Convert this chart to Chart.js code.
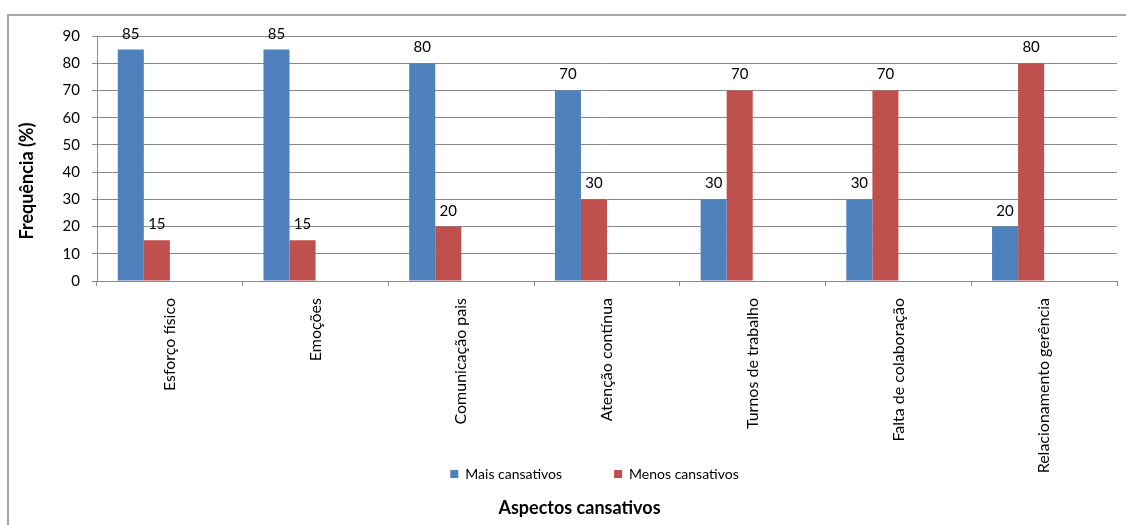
<!DOCTYPE html>
<html>
<head>
<meta charset="utf-8">
<script src="https://cdn.jsdelivr.net/npm/chart.js@4.4.1/dist/chart.umd.min.js"></script>
<style>
  html, body { margin: 0; padding: 0; background: #fff; }
  #wrap { width: 1126px; height: 525px; }
</style>
</head>
<body>
<div id="wrap"><canvas id="c" width="1126" height="525"></canvas></div>
<script>
// ---- data ----
const categories = ['Esforço físico', 'Emoções', 'Comunicação pais', 'Atenção contínua', 'Turnos de trabalho', 'Falta de colaboração', 'Relacionamento gerência'];
const maisCansativos = [85, 85, 80, 70, 30, 30, 20];
const menosCansativos = [15, 15, 20, 30, 70, 70, 80];
const emptySeriesA = [null, null, null, null, null, null, null];
const emptySeriesB = [null, null, null, null, null, null, null];
const seriesNames = ['Mais cansativos', 'Menos cansativos'];
const yTitle = 'Frequência (%)';
const xTitle = 'Aspectos cansativos';

const FONT = 'Lato';
const GRID = '#8a8a8a';
const LEGEND_PAD = 52;

const frame = {
  id: 'frame',
  beforeDraw(chart) {
    const ctx = chart.ctx;
    ctx.save();
    ctx.fillStyle = '#fff';
    ctx.fillRect(0, 0, chart.width, chart.height);
    ctx.strokeStyle = '#a6a6a6';
    ctx.lineWidth = 2;
    ctx.strokeRect(8, 15, chart.width + 20, chart.height + 20);
    ctx.restore();
  }
};

// legend sits inside the band of the rotated category labels, as in the original
const shiftBoxes = {
  id: 'shiftBoxes',
  afterLayout(chart) {
    const lg = chart.legend;
    if (lg) {
      lg.left += 31; lg.right += 31;
      lg.top = 467 - LEGEND_PAD;
      lg.bottom = 467 + 24;
    }
    if (chart.titleBlock) { chart.titleBlock.left += 16; chart.titleBlock.right += 16; }
  }
};

const valueLabels = {
  id: 'valueLabels',
  afterDatasetsDraw(chart) {
    const ctx = chart.ctx;
    ctx.save();
    ctx.font = '15px ' + FONT;
    ctx.fillStyle = '#000';
    ctx.textAlign = 'center';
    ctx.textBaseline = 'alphabetic';
    chart.data.datasets.forEach((ds, i) => {
      const meta = chart.getDatasetMeta(i);
      if (meta.hidden) return;
      meta.data.forEach((el, j) => {
        const v = ds.data[j];
        if (v === null || v === undefined) return;
        ctx.fillText(String(v), el.x, el.y - 11);
      });
    });
    ctx.restore();
  }
};

new Chart(document.getElementById('c'), {
  type: 'bar',
  data: {
    labels: categories,
    datasets: [
      { label: seriesNames[0], data: maisCansativos, backgroundColor: '#4F81BD' },
      { label: seriesNames[1], data: menosCansativos, backgroundColor: '#C0504D' },
      { label: '', data: emptySeriesA, backgroundColor: '#9BBB59' },
      { label: '', data: emptySeriesB, backgroundColor: '#8064A2' }
    ]
  },
  options: {
    responsive: false,
    animation: false,
    events: [],
    datasets: { bar: { categoryPercentage: 0.715, barPercentage: 1.0 } },
    layout: { padding: { left: 10, right: 9, top: 36, bottom: 3.2 } },
    font: { family: FONT },
    scales: {
      x: {
        offset: true,
        grid: { display: true, drawOnChartArea: false, drawTicks: true, tickLength: 5, offset: true, color: GRID },
        border: { display: true, color: GRID, width: 1 },
        ticks: { color: '#000', font: { family: FONT, size: 16 }, maxRotation: 90, minRotation: 90, autoSkip: false, padding: 12 },
        afterFit(scale) { scale.height = 205; }
      },
      y: {
        min: 0, max: 90,
        grid: { color: GRID, tickLength: 5, drawTicks: true },
        border: { display: true, color: GRID, width: 1 },
        ticks: { stepSize: 10, color: '#000', font: { family: FONT, size: 15 }, padding: 12 },
        title: { display: true, text: yTitle + '\u2002\u2002\u2002\u2002\u2002', color: '#000', font: { family: FONT, size: 18, weight: 'bold' }, padding: { top: 6.7, bottom: 0 } },
        afterFit(scale) { scale.width = 87; }
      }
    },
    plugins: {
      legend: {
        position: 'bottom',
        maxHeight: 5,
        labels: {
          font: { family: FONT, size: 14 }, color: '#000',
          boxWidth: 8, boxHeight: 8, padding: LEGEND_PAD,
          filter: (item) => item.text !== ''
        }
      },
      title: {
        display: true, position: 'bottom', text: xTitle, color: '#000',
        font: { family: FONT, size: 18, weight: 'bold' },
        padding: { top: 6.2, bottom: 3 }
      },
      tooltip: { enabled: false }
    }
  },
  plugins: [frame, shiftBoxes, valueLabels]
});
</script>
</body>
</html>
